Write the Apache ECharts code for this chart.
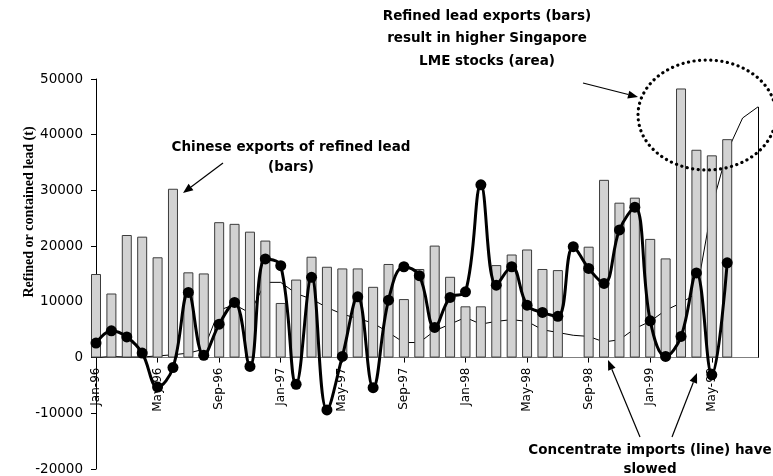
<!DOCTYPE html>
<html>
<head>
<meta charset="utf-8">
<script src="https://cdn.jsdelivr.net/npm/echarts@6/dist/echarts.min.js"></script>
<style>
  html, body { margin: 0; padding: 0; background: #fff; }
  #chart { width: 773px; height: 476px; }
</style>
</head>
<body>
<div id="chart"></div>
<script>
// Monthly categories, Jan-96 .. Aug-99
const months = [
  'Jan-96','Feb-96','Mar-96','Apr-96','May-96','Jun-96','Jul-96','Aug-96','Sep-96','Oct-96','Nov-96','Dec-96',
  'Jan-97','Feb-97','Mar-97','Apr-97','May-97','Jun-97','Jul-97','Aug-97','Sep-97','Oct-97','Nov-97','Dec-97',
  'Jan-98','Feb-98','Mar-98','Apr-98','May-98','Jun-98','Jul-98','Aug-98','Sep-98','Oct-98','Nov-98','Dec-98',
  'Jan-99','Feb-99','Mar-99','Apr-99','May-99','Jun-99','Jul-99','Aug-99'
];

// Chinese exports of refined lead (t) - bars
const refinedExports = [
  15000, 11500, 22000, 21700, 18000, 30300, 15300, 15100, 24300, 24000, 22600, 21000,
  9800, 14000, 18100, 16300, 16000, 16000, 12700, 16800, 10500, 15900, 20100, 14500,
  9200, 9200, 16600, 18500, 19400, 15900, 15700, null, 19900, 31900, 27800, 28700,
  21300, 17800, 48300, 37300, 36300, 39200, null, null
];

// Concentrate imports, contained lead (t) - line
const concentrateImports = [
  2600, 4800, 3700, 800, -5300, -1800, 11700, 400, 6000, 9900, -1600, 17700,
  16500, -4800, 14400, -9400, 200, 10900, -5400, 10300, 16300, 14700, 5400, 10800,
  11800, 31000, 13000, 16300, 9400, 8100, 7400, 19900, 16000, 13300, 22900, 27000,
  6600, 200, 3800, 15200, -3100, 17000, null, null
];

// Singapore LME stocks (t) - area
const lmeStocks = [
  0, 200, 100, 100, 300, 500, 800, 1500, 8500, 9500, 8000, 13500,
  13500, 11500, 10500, 9000, 7800, 7000, 6200, 4500, 2700, 2700, 4800, 6000,
  7200, 6000, 6500, 6800, 6500, 5000, 4500, 4000, 3800, 2800, 3200, 5200,
  6500, 8500, 9800, 11500, 27000, 37000, 43000, 45000
];

// Value axis ticks
const yMin = -20000, yMax = 50000, yStep = 10000;

const FONT = "'DejaVu Sans', Verdana, sans-serif";

// Plot area
const GRID = { left: 96, right: 15, top: 79, bottom: 7 };
const CHART_H = 476;
const gridH = CHART_H - GRID.top - GRID.bottom;
// Category axis sits on the zero line: shift it up from the bottom edge
const zeroOffset = -gridH * (0 - yMin) / (yMax - yMin);

// Arrow helper: shaft plus filled head at the end point
function arrow(x1, y1, x2, y2) {
  const ang = Math.atan2(y2 - y1, x2 - x1);
  const len = 10, half = 4;
  const bx = x2 - len * Math.cos(ang), by = y2 - len * Math.sin(ang);
  const px = -Math.sin(ang) * half, py = Math.cos(ang) * half;
  return [
    { type: 'line', shape: { x1: x1, y1: y1, x2: bx, y2: by },
      style: { stroke: '#000', lineWidth: 1.2 }, silent: true, z: 50 },
    { type: 'polygon', shape: { points: [[x2, y2], [bx + px, by + py], [bx - px, by - py]] },
      style: { fill: '#000' }, silent: true, z: 50 }
  ];
}

// Dotted ellipse outline
function ellipsePoints(cx, cy, rx, ry, n) {
  const pts = [];
  for (let i = 0; i < n; i++) {
    const t = (i / n) * Math.PI * 2;
    pts.push([cx + rx * Math.cos(t), cy + ry * Math.sin(t)]);
  }
  return pts;
}

const lastCat = months[months.length - 1];
const lastStock = lmeStocks[lmeStocks.length - 1];

const chart = echarts.init(document.getElementById('chart'), null, { renderer: 'canvas' });

const option = {
  animation: false,
  backgroundColor: '#fff',
  grid: Object.assign({ containLabel: false, outerBoundsMode: 'none' }, GRID),
  xAxis: {
    type: 'category',
    data: months,
    boundaryGap: false,
    offset: zeroOffset,
    axisLine: { onZero: false, lineStyle: { color: '#000', width: 1 } },
    axisTick: { show: true, interval: 3, length: 5, lineStyle: { color: '#000' } },
    axisLabel: { interval: 3, rotate: 90, margin: 10, fontFamily: FONT, fontSize: 12, color: '#000' },
    splitLine: { show: false }
  },
  yAxis: {
    type: 'value',
    min: yMin, max: yMax, interval: yStep,
    axisLine: { show: true, lineStyle: { color: '#000', width: 1 } },
    axisTick: { show: true, length: 5, lineStyle: { color: '#000' } },
    axisLabel: { margin: 13, fontFamily: FONT, fontSize: 13.5, color: '#000',
      formatter: function (v) { return String(v); } },
    splitLine: { show: false }
  },
  series: [
    {
      name: 'Singapore LME stocks',
      type: 'line',
      data: lmeStocks,
      symbol: 'none',
      lineStyle: { color: '#000', width: 1 },
      areaStyle: { color: '#fff', opacity: 1 },
      z: 1,
      markLine: {
        silent: true,
        symbol: 'none',
        label: { show: false },
        lineStyle: { color: '#000', width: 1, type: 'solid' },
        data: [[{ coord: [lastCat, 0] }, { coord: [lastCat, lastStock] }]]
      }
    },
    {
      name: 'Chinese exports of refined lead',
      type: 'bar',
      data: refinedExports,
      barWidth: 10,
      itemStyle: { color: '#d2d2d2', borderColor: '#3c3c3c', borderWidth: 1 },
      z: 2
    },
    {
      name: 'Concentrate imports',
      type: 'line',
      data: concentrateImports,
      smooth: 0.4,
      symbol: 'circle',
      symbolSize: 11,
      showAllSymbol: true,
      lineStyle: { color: '#000', width: 3 },
      itemStyle: { color: '#000' },
      z: 3
    }
  ],
  graphic: [
    {
      type: 'text', x: 29, y: 212, rotation: Math.PI / 2, silent: true,
      style: { text: 'Refined or contained lead (t)', fill: '#000',
        font: "bold 14px 'Liberation Serif', 'Times New Roman', serif",
        textAlign: 'center', textVerticalAlign: 'middle' }
    },
    {
      type: 'text', x: 291, y: 137, silent: true, z: 50,
      style: { text: 'Chinese exports of refined lead\n(bars)', fill: '#000',
        font: 'bold 13.5px ' + FONT, lineHeight: 20, textAlign: 'center', textVerticalAlign: 'top' }
    },
    {
      type: 'text', x: 487, y: 5, silent: true, z: 50,
      style: { text: 'Refined lead exports (bars)\nresult in higher Singapore\nLME stocks (area)', fill: '#000',
        font: 'bold 13.5px ' + FONT, lineHeight: 22.5, textAlign: 'center', textVerticalAlign: 'top' }
    },
    {
      type: 'text', x: 650, y: 441, silent: true, z: 50,
      style: { text: 'Concentrate imports (line) have\nslowed', fill: '#000',
        font: 'bold 13.5px ' + FONT, lineHeight: 19, textAlign: 'center', textVerticalAlign: 'top' }
    },
    {
      type: 'polygon', silent: true, z: 50,
      shape: { points: ellipsePoints(707, 115, 69, 55, 120) },
      style: { fill: null, stroke: '#000', lineWidth: 3.2, lineDash: [0.1, 5.5], lineCap: 'round' }
    }
  ]
    .concat(arrow(223, 163, 183, 193))
    .concat(arrow(583, 83, 638, 97))
    .concat(arrow(640, 437, 608, 360))
    .concat(arrow(672, 437, 697, 373))
};

chart.setOption(option);
</script>
</body>
</html>
